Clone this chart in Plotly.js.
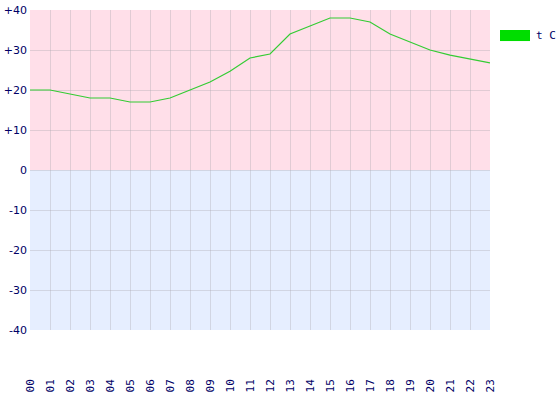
<!DOCTYPE html>
<html><head><meta charset="utf-8">
<script src="https://cdn.plot.ly/plotly-3.0.1.min.js"></script>
<style>body{margin:0;background:#fff}#c{width:560px;height:400px}</style>
</head><body><div id="c"></div>
<script>
const hours = ["00","01","02","03","04","05","06","07","08","09","10","11","12","13","14","15","16","17","18","19","20","21","22","23"];
const temps = [20,20,19,18,18,17,17,18,20,22,24.7,28,29,34,36,38,38,37,34,32,30,28.7,27.8,26.8];
const yTicks = [40,30,20,10,0,-10,-20,-30,-40];
const yLabels = ["+40","+30","+20","+10","0","-10","-20","-30","-40"];
const seriesName = "t C";

const xIdx = hours.map((h,i)=>i);
const font = {family:"DejaVu Sans, Verdana, sans-serif", size:11, color:"#000066"};
const grid = "rgba(170,165,175,0.35)";
Plotly.newPlot("c", [{
  x: xIdx, y: temps, type:"scatter", mode:"lines",
  line:{color:"#33cc33", width:1.2}, showlegend:false, hoverinfo:"skip"
}], {
  width:560, height:400,
  margin:{l:30, r:70, t:10, b:70},
  paper_bgcolor:"#ffffff", plot_bgcolor:"#ffffff",
  font: font,
  xaxis:{range:[0,23], tickvals:xIdx, ticktext:hours, tickangle:-90,
    showgrid:true, gridcolor:grid, gridwidth:1,
    zeroline:false, showline:false, ticks:"", ticklabelstandoff:46,
    tickfont:{family:"DejaVu Sans Mono, monospace", size:11, color:"#000066"}, fixedrange:true},
  yaxis:{range:[-40,40], tickvals:yTicks, ticktext:yLabels,
    showgrid:true, gridcolor:grid, gridwidth:1,
    zeroline:false, showline:false, ticks:"", ticklabelstandoff:2,
    tickfont:font, fixedrange:true},
  shapes:[
    {type:"rect", xref:"x", yref:"y", x0:0, x1:23, y0:0, y1:40, fillcolor:"#ffdfe9", line:{width:0}, layer:"below"},
    {type:"rect", xref:"x", yref:"y", x0:0, x1:23, y0:-40, y1:0, fillcolor:"#e6eeff", line:{width:0}, layer:"below"},
    {type:"rect", xref:"paper", yref:"paper", x0:1.0217, x1:1.087, y0:0.9375, y1:0.903, fillcolor:"#00dd00", line:{width:0}}
  ],
  annotations:[
    {xref:"paper", yref:"paper", x:1.095, y:0.920, xanchor:"left", yanchor:"middle", text:seriesName, showarrow:false,
     font:{family:"DejaVu Sans Mono, monospace", size:11, color:"#000066"}}
  ]
}, {staticPlot:true});
</script></body></html>
